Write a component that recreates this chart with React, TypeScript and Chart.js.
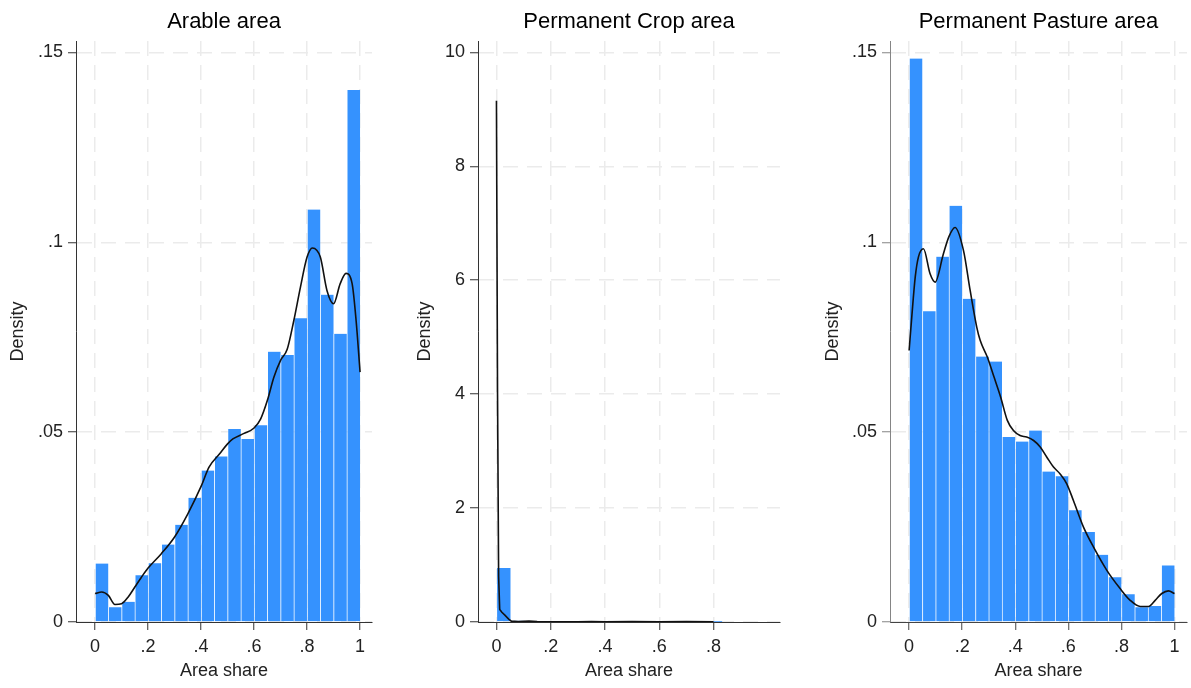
import React, { useEffect, useRef } from "react";
import { Chart, registerables } from "chart.js";

Chart.register(...registerables);

// ---------- DATA ----------
const binCenters = [
  0.025, 0.075, 0.125, 0.175, 0.225, 0.275, 0.325, 0.375, 0.425, 0.475,
  0.525, 0.575, 0.625, 0.675, 0.725, 0.775, 0.825, 0.875, 0.925, 0.975,
];
const arableHist = [
  0.0154, 0.0039, 0.0053, 0.0123, 0.0155, 0.0204, 0.0256, 0.0327, 0.0399, 0.0436,
  0.0508, 0.0482, 0.0518, 0.0712, 0.0703, 0.08, 0.1086, 0.0862, 0.0759, 0.1401,
];
const pastureHist = [
  0.1484, 0.0818, 0.0962, 0.1096, 0.0851, 0.0699, 0.0686, 0.0487, 0.0475, 0.0504,
  0.0396, 0.0384, 0.0294, 0.0237, 0.0177, 0.0118, 0.0073, 0.0039, 0.0042, 0.0149,
];
const cropBinCenters = [
  0.026, 0.078, 0.13, 0.182, 0.234, 0.286, 0.338, 0.39, 0.442, 0.494, 0.546,
  0.598, 0.65, 0.702, 0.754, 0.806,
];
const cropHist = [
  0.947, 0.02, 0.012, 0.006, 0.004, 0.003, 0.006, 0.005, 0.002, 0.004, 0.006,
  0.003, 0.004, 0.003, 0.002, 0.002,
];

const arableKdeX = [
  0, 0.025, 0.05, 0.075, 0.1, 0.125, 0.15, 0.175, 0.2, 0.25, 0.3, 0.35, 0.4,
  0.43, 0.47, 0.5, 0.52, 0.56, 0.6, 0.625, 0.65, 0.675, 0.7, 0.725, 0.75, 0.775,
  0.8, 0.82, 0.85, 0.875, 0.9, 0.925, 0.947, 0.97, 0.985, 1.0,
];
const arableKdeY = [
  0.0075, 0.0079, 0.007, 0.0046, 0.0048, 0.0066, 0.0092, 0.0118, 0.0142, 0.018,
  0.0224, 0.0285, 0.0357, 0.0408, 0.0443, 0.0469, 0.0482, 0.0496, 0.0511, 0.0535,
  0.0583, 0.0645, 0.0689, 0.0718, 0.0794, 0.0882, 0.0961, 0.0985, 0.0961, 0.0873,
  0.0838, 0.0891, 0.0918, 0.0891, 0.0794, 0.0658,
];
const pastureKdeX = [
  0, 0.01, 0.023, 0.035, 0.054, 0.079, 0.098, 0.129, 0.15, 0.173, 0.205, 0.23,
  0.255, 0.268, 0.295, 0.32, 0.345, 0.37, 0.393, 0.418, 0.443, 0.469, 0.494,
  0.519, 0.544, 0.569, 0.594, 0.619, 0.657, 0.695, 0.745, 0.795, 0.833, 0.871,
  0.902, 0.927, 0.952, 0.977, 1.0,
];
const pastureKdeY = [
  0.0715, 0.0803, 0.0908, 0.0961, 0.0983, 0.0917, 0.0895, 0.0969, 0.1015, 0.1039,
  0.0978, 0.0873, 0.0776, 0.0741, 0.0697, 0.0645, 0.0592, 0.0531, 0.0504, 0.0491,
  0.0487, 0.0478, 0.0461, 0.0434, 0.0408, 0.039, 0.0364, 0.032, 0.025, 0.0197,
  0.0136, 0.0088, 0.0057, 0.0041, 0.0041, 0.0057, 0.0075, 0.0082, 0.0075,
];
const cropKdeX = [
  0, 0.004, 0.008, 0.012, 0.02, 0.031, 0.045, 0.055, 0.08, 0.12, 0.15, 0.2, 0.3,
  0.35, 0.4, 0.5, 0.6, 0.7, 0.8,
];
const cropKdeY = [
  9.15, 4.0, 0.8, 0.22, 0.17, 0.12, 0.05, 0.015, 0.01, 0.015, 0.008, 0.005,
  0.004, 0.008, 0.003, 0.006, 0.004, 0.006, 0.003,
];

const shareTicks = [0, 0.2, 0.4, 0.6, 0.8, 1];
const cropShareTicks = [0, 0.2, 0.4, 0.6, 0.8];
const fractionTicks = [0, 0.05, 0.1, 0.15];
const cropDensityTicks = [0, 2, 4, 6, 8, 10];

const titles = ["Arable area", "Permanent Crop area", "Permanent Pasture area"];

// ---------- STYLE ----------
const NARROW = "'Liberation Sans Narrow', 'Arial Narrow', 'Liberation Sans', Arial, sans-serif";
const REGULAR = "'Liberation Sans', Arial, sans-serif";
const BAR_COLOR = "#3592fe";
const GRID_COLOR = "#ebebeb";

const fmt = (v: number) => {
  const s = String(+Number(v).toFixed(3));
  return s.replace(/^0\./, ".");
};

type PanelSpec = {
  left: number;
  width: number;
  yAxisW: number;
  padRight: number;
  yTitlePad: number;
  title: string;
  binX: number[];
  hist: number[];
  kdeX: number[];
  kdeY: number[];
  xMin: number;
  xMax: number;
  xTicks: number[];
  yMax: number;
  yTicks: number[];
  yBorder: string;
  xBorder: string;
  monotone: boolean;
};

const panels: PanelSpec[] = [
  {
    left: 0, width: 400, yAxisW: 76, padRight: 28, yTitlePad: 7.5,
    title: titles[0], binX: binCenters, hist: arableHist, kdeX: arableKdeX, kdeY: arableKdeY,
    xMin: -0.072, xMax: 1.045, xTicks: shareTicks, yMax: 0.153, yTicks: fractionTicks,
    yBorder: "#333", xBorder: "#333", monotone: true,
  },
  {
    left: 400, width: 400, yAxisW: 78, padRight: 20, yTitlePad: 14.2,
    title: titles[1], binX: cropBinCenters, hist: cropHist, kdeX: cropKdeX, kdeY: cropKdeY,
    xMin: -0.068, xMax: 1.045, xTicks: cropShareTicks, yMax: 10.2, yTicks: cropDensityTicks,
    yBorder: "#333", xBorder: "#333", monotone: false,
  },
  {
    left: 800, width: 391, yAxisW: 90, padRight: 4, yTitlePad: 22.2,
    title: titles[2], binX: binCenters, hist: pastureHist, kdeX: pastureKdeX, kdeY: pastureKdeY,
    xMin: -0.072, xMax: 1.047, xTicks: shareTicks, yMax: 0.153, yTicks: fractionTicks,
    yBorder: "#858585", xBorder: "#444", monotone: true,
  },
];

const H = 688;
const X_AXIS_H = 66;

function Panel({ spec }: { spec: PanelSpec }) {
  const ref = useRef<HTMLCanvasElement>(null);
  useEffect(() => {
    if (!ref.current) return;
    const tickFont = { family: NARROW, size: 18 };
    const chart = new Chart(ref.current, {
      type: "bar",
      data: {
        datasets: [
          {
            type: "line",
            data: spec.kdeX.map((x, i) => ({ x, y: spec.kdeY[i] })),
            borderColor: "#111",
            borderWidth: 1.6,
            pointRadius: 0,
            fill: false,
            cubicInterpolationMode: spec.monotone ? "monotone" : "default",
            tension: spec.monotone ? 0.4 : 0,
            order: 0,
          } as any,
          {
            type: "bar",
            data: spec.binX.map((x, i) => ({ x, y: spec.hist[i] })),
            backgroundColor: BAR_COLOR,
            borderColor: "rgba(255,255,255,0.3)",
            borderWidth: { left: 1, right: 0, top: 0, bottom: 0 },
            borderSkipped: false,
            barPercentage: 1,
            categoryPercentage: 1,
            order: 1,
          } as any,
        ],
      },
      options: {
        responsive: false,
        animation: false,
        events: [],
        layout: { padding: { left: 0, right: spec.padRight, top: 0, bottom: 0 } },
        plugins: {
          legend: { display: false },
          tooltip: { enabled: false },
          title: {
            display: true,
            text: spec.title,
            fullSize: false,
            color: "#000",
            font: { family: REGULAR, size: 22, weight: "normal" },
            padding: { top: 8.5, bottom: 6.1 },
          },
        },
        scales: {
          x: {
            type: "linear",
            min: spec.xMin,
            max: spec.xMax,
            offset: false,
            afterBuildTicks: (scale: any) => {
              scale.ticks = spec.xTicks.map((v) => ({ value: v }));
            },
            afterFit: (scale: any) => {
              scale.height = X_AXIS_H;
            },
            ticks: {
              callback: (v: any) => fmt(v),
              font: tickFont,
              color: "#222",
              padding: 6,
              maxRotation: 0,
              autoSkip: false,
            },
            grid: {
              offset: false,
              color: GRID_COLOR,
              lineWidth: 1.5,
              tickColor: spec.xBorder,
              tickLength: 8,
              tickWidth: 1,
              drawTicks: true,
            },
            border: { display: true, color: spec.xBorder, width: 1, dash: [15, 9] },
            title: {
              display: true,
              text: "Area share",
              font: tickFont,
              color: "#222",
              padding: { top: 0, bottom: 6 },
            },
          } as any,
          y: {
            type: "linear",
            min: 0,
            max: spec.yMax,
            afterBuildTicks: (scale: any) => {
              scale.ticks = spec.yTicks.map((v) => ({ value: v }));
            },
            afterFit: (scale: any) => {
              scale.width = spec.yAxisW;
            },
            ticks: {
              callback: (v: any) => fmt(v),
              font: tickFont,
              color: "#222",
              padding: 5,
              autoSkip: false,
            },
            grid: {
              color: GRID_COLOR,
              lineWidth: 1.5,
              tickColor: spec.yBorder,
              tickLength: 8,
              tickWidth: 1,
              drawTicks: true,
            },
            border: { display: true, color: spec.yBorder, width: 1, dash: [15, 9] },
            title: {
              display: true,
              text: "Density",
              font: tickFont,
              color: "#222",
              padding: { top: spec.yTitlePad, bottom: 0 },
            },
          } as any,
        },
      } as any,
    });
    return () => chart.destroy();
  }, [spec]);
  return (
    <canvas
      ref={ref}
      width={spec.width}
      height={H}
      style={{ position: "absolute", left: spec.left, top: 0, width: spec.width, height: H }}
    />
  );
}

export default function App() {
  return (
    <div
      style={{
        position: "absolute",
        left: 0,
        top: 0,
        width: 1191,
        height: H,
        background: "#fff",
        overflow: "hidden",
      }}
    >
      {panels.map((p, i) => (
        <Panel key={i} spec={p} />
      ))}
    </div>
  );
}
